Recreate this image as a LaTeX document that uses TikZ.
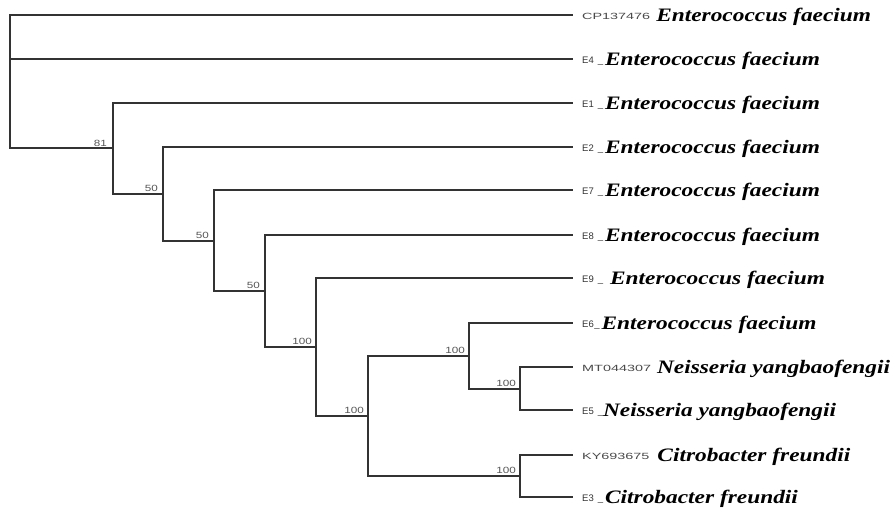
\documentclass[tikz,border=0pt]{standalone}
\usepackage{fontspec}
\usepackage{tikz}
\usetikzlibrary{positioning,calc}
\newfontfamily\spfont[FakeStretch=1.23]{Liberation Serif}
\newfontfamily\idfont[FakeStretch=1.6]{Liberation Sans}
\newfontfamily\efont{Liberation Sans}
\newfontfamily\bsfont[FakeStretch=1.3]{Liberation Sans}
\definecolor{branchgray}{HTML}{333333}
\definecolor{idgray}{HTML}{4A4A4A}
\definecolor{bootgray}{HTML}{555555}
\newcommand{\spname}[1]{{\fontsize{19}{19}\spfont\bfseries\itshape #1}}
\newcommand{\accno}[1]{\raisebox{2.2pt}{\fontsize{9}{9}\idfont\color{idgray}#1}}
\newcommand{\isolate}[1]{\raisebox{2.2pt}{\fontsize{9.5}{9.5}\efont\color{branchgray}#1}}

\begin{document}
\begin{tikzpicture}[x=1pt, y=-1pt, branch/.style={draw=branchgray, line width=1.2pt, line cap=rect},
  leaflab/.style={anchor=base west, inner sep=0pt},
  boot/.style={anchor=base east, inner sep=0pt, text=bootgray, font=\fontsize{9}{9}\bsfont}]
\useasboundingbox (0,0) rectangle (893,508);
% tips
\coordinate (tCP) at (572,15);
\coordinate (tE4) at (572,59);
\coordinate (tE1) at (572,103);
\coordinate (tE2) at (572,147);
\coordinate (tE7) at (572,190);
\coordinate (tE8) at (572,235);
\coordinate (tE9) at (572,278);
\coordinate (tE6) at (572,323);
\coordinate (tMT) at (572,367);
\coordinate (tE5) at (572,410);
\coordinate (tKY) at (572,455);
\coordinate (tE3) at (572,497);
% internal nodes
\coordinate (root) at (10,148);
\coordinate (n81) at (113,148);
\coordinate (n50a) at (163,194);
\coordinate (n50b) at (214,241);
\coordinate (n50c) at (265,291);
\coordinate (n100a) at (316,347);
\coordinate (n100b) at (368,416);
\coordinate (n100c) at (469,356);
\coordinate (n100d) at (520,389);
\coordinate (n100e) at (520,476);
% branches
\begin{scope}[every path/.style={branch}]
\draw (root) |- (tCP);
\draw (root) |- (tE4);
\draw (root) -- (n81);
\draw (n81) |- (tE1);
\draw (n81) |- (n50a);
\draw (n50a) |- (tE2);
\draw (n50a) |- (n50b);
\draw (n50b) |- (tE7);
\draw (n50b) |- (n50c);
\draw (n50c) |- (tE8);
\draw (n50c) |- (n100a);
\draw (n100a) |- (tE9);
\draw (n100a) |- (n100b);
\draw (n100b) |- (n100c);
\draw (n100b) |- (n100e);
\draw (n100c) |- (tE6);
\draw (n100c) |- (n100d);
\draw (n100d) |- (tMT);
\draw (n100d) |- (tE5);
\draw (n100e) |- (tKY);
\draw (n100e) |- (tE3);
\end{scope}
% support values
\node[boot] at ($(n81)+(-6,-2)$) {81};
\node[boot] at ($(n50a)+(-5,-2.5)$) {50};
\node[boot] at ($(n50b)+(-5,-2.5)$) {50};
\node[boot] at ($(n50c)+(-5,-2.5)$) {50};
\node[boot] at ($(n100a)+(-4,-2.5)$) {100};
\node[boot] at ($(n100b)+(-4,-2.5)$) {100};
\node[boot] at ($(n100c)+(-4,-2.5)$) {100};
\node[boot] at ($(n100d)+(-4,-2.5)$) {100};
\node[boot] at ($(n100e)+(-4,-2.5)$) {100};
% taxa
\node[leaflab] (lCP) at ($(tCP)+(10,6.7)$) {\accno{CP137476}\hspace{6pt}\spname{Enterococcus faecium}};
\node[leaflab] (lE4) at ($(tE4)+(10,6.7)$) {\isolate{E4\hspace{4pt}\_}\hspace{2pt}\spname{Enterococcus faecium}};
\node[leaflab] (lE1) at ($(tE1)+(10,6.7)$) {\isolate{E1\hspace{4pt}\_}\hspace{2pt}\spname{Enterococcus faecium}};
\node[leaflab] (lE2) at ($(tE2)+(10,6.7)$) {\isolate{E2\hspace{4pt}\_}\hspace{2pt}\spname{Enterococcus faecium}};
\node[leaflab] (lE7) at ($(tE7)+(10,6.7)$) {\isolate{E7\hspace{4pt}\_}\hspace{2pt}\spname{Enterococcus faecium}};
\node[leaflab] (lE8) at ($(tE8)+(10,6.7)$) {\isolate{E8\hspace{4pt}\_}\hspace{2pt}\spname{Enterococcus faecium}};
\node[leaflab] (lE9) at ($(tE9)+(10,6.7)$) {\isolate{E9\hspace{4pt}\_}\hspace{7pt}\spname{Enterococcus faecium}};
\node[leaflab] (lE6) at ($(tE6)+(10,6.7)$) {\isolate{E6\hspace{0.5pt}\_}\hspace{2pt}\spname{Enterococcus faecium}};
\node[leaflab] (lMT) at ($(tMT)+(10,6.7)$) {\accno{MT044307}\hspace{6pt}\spname{Neisseria yangbaofengii}};
\node[leaflab] (lE5) at ($(tE5)+(10,6.7)$) {\isolate{E5\hspace{4pt}\_}\hspace{0pt}\spname{Neisseria yangbaofengii}};
\node[leaflab] (lKY) at ($(tKY)+(10,6.7)$) {\accno{KY693675}\hspace{8pt}\spname{Citrobacter freundii}};
\node[leaflab] (lE3) at ($(tE3)+(10,6.7)$) {\isolate{E3\hspace{4pt}\_}\hspace{2pt}\spname{Citrobacter freundii}};
\end{tikzpicture}
\end{document}
